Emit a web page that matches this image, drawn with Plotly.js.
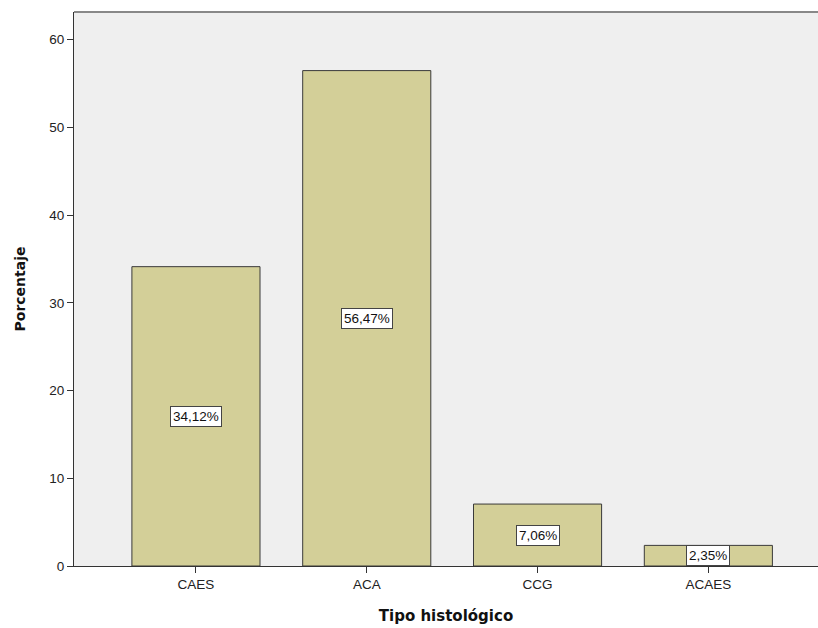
<!DOCTYPE html>
<html>
<head>
<meta charset="utf-8">
<script src="https://cdn.plot.ly/plotly-3.0.1.min.js"></script>
<style>html,body{margin:0;padding:0;background:#fff;}#chart{width:818px;height:628px;}</style>
</head>
<body>
<div id="chart"></div>
<script>
const categories = ["CAES", "ACA", "CCG", "ACAES"];
const percentages = [34.12, 56.47, 7.06, 2.35];
const labels = ["34,12%", "56,47%", "7,06%", "2,35%"];
const yTicks = [0, 10, 20, 30, 40, 50, 60];

const trace = {
  type: "bar",
  x: categories,
  y: percentages,
  width: 0.75,
  marker: {color: "#d3cf98", line: {color: "#3a3a3a", width: 1}},
  hoverinfo: "skip"
};

const annotations = categories.map((c, i) => ({
  x: c, y: percentages[i] / 2, xref: "x", yref: "y",
  text: labels[i], showarrow: false,
  font: {family: "Liberation Sans, Arial, sans-serif", size: 13.5, color: "#111"},
  bgcolor: "#ffffff", bordercolor: "#444", borderwidth: 1, borderpad: 2
}));

const layout = {
  width: 818, height: 628,
  margin: {l: 74, r: 0, t: 12, b: 62},
  paper_bgcolor: "#ffffff",
  plot_bgcolor: "#efefef",
  showlegend: false,
  font: {family: "Liberation Sans, Arial, sans-serif", size: 13.5, color: "#222"},
  xaxis: {
    type: "category",
    range: [-0.714, 3.642],
    showline: true, linecolor: "#333", linewidth: 1,
    ticks: "outside", ticklen: 6, tickcolor: "#333",
    showgrid: false, zeroline: false,
    tickfont: {size: 13.5, color: "#222"},
    title: {text: "<b>Tipo histológico</b>", font: {family: "DejaVu Sans, sans-serif", size: 15, color: "#111"}, standoff: 19}
  },
  yaxis: {
    range: [0, 63.15],
    tickvals: yTicks,
    showline: true, linecolor: "#333", linewidth: 1,
    ticks: "outside", ticklen: 6, tickcolor: "#333",
    showgrid: false, zeroline: false,
    tickfont: {size: 13.5, color: "#222"},
    title: {text: "<b>Porcentaje</b>", font: {family: "DejaVu Sans, sans-serif", size: 14, color: "#111"}, standoff: 20}
  },
  shapes: [{
    type: "line", xref: "paper", yref: "paper", x0: 0, x1: 1, y0: 1, y1: 1,
    line: {color: "#888", width: 2}
  }],
  annotations: annotations
};

Plotly.newPlot("chart", [trace], layout, {displayModeBar: false, staticPlot: true});
</script>
</body>
</html>
